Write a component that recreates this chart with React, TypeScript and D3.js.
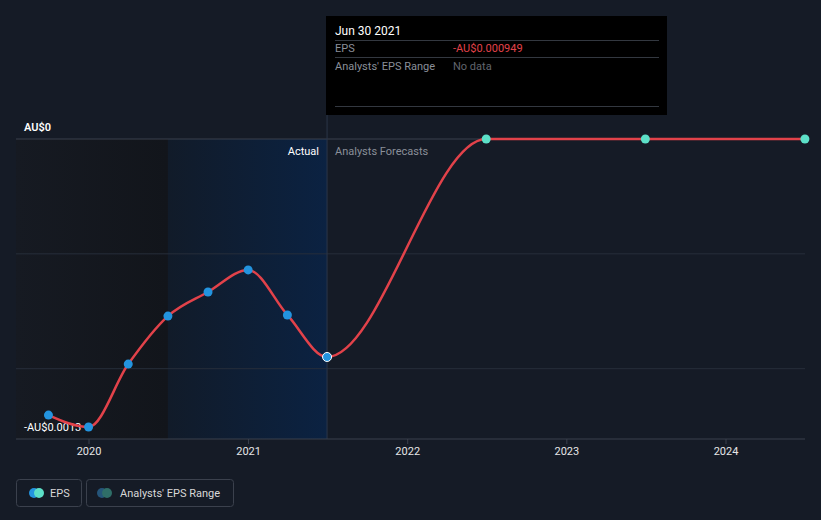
import React from "react";
import * as d3 from "d3";

const actualDates = ["2019-09-30", "2019-12-31", "2020-03-31", "2020-06-30", "2020-09-30", "2020-12-31", "2021-03-31", "2021-06-30"];
const actualEps = [-0.001202, -0.001254, -0.00098, -0.000771, -0.000666, -0.00057, -0.000766, -0.000949];
const forecastDates = ["2022-06-30", "2023-06-30", "2024-06-30"];
const forecastEps = [0, 0, 0];
const yearTicks = [2020, 2021, 2022, 2023, 2024];
const yTickValues = [0, -0.0005, -0.001];

const W = 821;
const H = 520;
const FONT = "Roboto, 'Noto Sans', sans-serif";

export default function App() {
  const parse = d3.timeParse("%Y-%m-%d");
  const x = d3
    .scaleTime()
    .domain([new Date(2020, 0, 1), new Date(2024, 0, 1)])
    .range([89, 726]);
  const y = d3.scaleLinear().domain([0, -0.0013]).range([139, 437.6]);

  const actual = actualDates.map((d, i) => ({ date: parse(d) as Date, v: actualEps[i] }));
  const forecast = forecastDates.map((d, i) => ({ date: parse(d) as Date, v: forecastEps[i] }));
  const all = [...actual, ...forecast];

  const line = d3
    .line<{ date: Date; v: number }>()
    .x((d) => x(d.date))
    .y((d) => y(d.v))
    .curve(d3.curveMonotoneX);

  const lastActual = actual[actual.length - 1];
  const xNow = x(lastActual.date);
  const xPastStart = x(parse("2020-06-30") as Date);
  const plotLeft = 16;
  const plotRight = 805;
  const plotTop = 139;
  const axisY = 439;
  const minVal = d3.min(actualEps) as number;

  return (
    <div style={{ position: "absolute", left: 0, top: 0, width: W, height: H }}>
      <svg width={W} height={H} style={{ display: "block", background: "#151b26", fontFamily: FONT }}>
        <defs>
          <linearGradient id="pastGrad" x1="0" x2="1" y1="0" y2="0">
            <stop offset="0%" stopColor="#161a22" />
            <stop offset="100%" stopColor="#12151b" />
          </linearGradient>
          <linearGradient id="actGrad" x1="0" x2="1" y1="0" y2="0">
            <stop offset="0%" stopColor="#111b29" />
            <stop offset="100%" stopColor="#0b2242" />
          </linearGradient>
        </defs>
        <rect x={plotLeft} y={plotTop} width={xPastStart - plotLeft} height={axisY - plotTop} fill="url(#pastGrad)" />
        <rect x={xPastStart} y={plotTop} width={xNow - xPastStart} height={axisY - plotTop} fill="url(#actGrad)" />

        {yTickValues.map((t, i) => (
          <line
            key={t}
            x1={plotLeft}
            x2={plotRight}
            y1={y(t)}
            y2={y(t)}
            stroke={i === 0 ? "#3b414d" : "#272e3a"}
            strokeWidth={1}
          />
        ))}

        <line x1={xNow} x2={xNow} y1={100} y2={axisY} stroke="#2a3648" strokeWidth={1} />

        <line x1={plotLeft} x2={plotRight} y1={axisY} y2={axisY} stroke="#3b414d" strokeWidth={1} />
        {yearTicks.map((yr) => {
          const xx = x(new Date(yr, 0, 1));
          return (
            <g key={yr}>
              <line x1={xx} x2={xx} y1={axisY} y2={axisY + 5} stroke="#3b414d" />
              <text x={xx} y={455} fill="#e6e6e6" fontSize={11} textAnchor="middle">
                {yr}
              </text>
            </g>
          );
        })}

        <text x={24} y={131} fill="#ffffff" fontSize={11} fontWeight={600}>
          AU$0
        </text>
        <text x={24} y={431} fill="#ffffff" fontSize={11}>
          {"-AU$" + (-minVal).toFixed(4)}
        </text>

        <text x={319} y={155} fill="#ffffff" fontSize={11} textAnchor="end">
          Actual
        </text>
        <text x={335} y={155} fill="#8a8f99" fontSize={11}>
          Analysts Forecasts
        </text>

        <path d={line(all) || ""} fill="none" stroke="#e2424a" strokeWidth={2.5} />

        {actual.map((d, i) => (
          <circle
            key={"a" + i}
            cx={x(d.date)}
            cy={y(d.v)}
            r={4.5}
            fill="#2394df"
            stroke={i === actual.length - 1 ? "#ffffff" : "none"}
            strokeWidth={1}
          />
        ))}
        {forecast.map((d, i) => (
          <circle key={"f" + i} cx={x(d.date)} cy={y(d.v)} r={4.5} fill="#5ce0c8" />
        ))}

        <g>
          <rect x={326} y={16} width={341} height={99} fill="#000000" />
          <text x={335} y={35} fill="#ffffff" fontSize={12}>
            Jun 30 2021
          </text>
          <line x1={335} x2={659} y1={40.5} y2={40.5} stroke="#333840" />
          <text x={335} y={52} fill="#8a8f99" fontSize={11}>
            EPS
          </text>
          <text x={453} y={52} fill="#e2424a" fontSize={11}>
            {"-AU$" + (-lastActual.v).toFixed(6)}
          </text>
          <line x1={335} x2={659} y1={57.5} y2={57.5} stroke="#333840" />
          <text x={335} y={70} fill="#8a8f99" fontSize={11}>
            Analysts' EPS Range
          </text>
          <text x={453} y={70} fill="#60656e" fontSize={11}>
            No data
          </text>
          <line x1={335} x2={659} y1={106.5} y2={106.5} stroke="#333840" />
        </g>

        <g>
          <rect x={16.5} y={479.5} width={65} height={27} rx={3} fill="none" stroke="#3b414d" />
          <circle cx={34} cy={493} r={5} fill="#2394df" />
          <circle cx={39} cy={493} r={5} fill="#5ce0c8" />
          <text x={50} y={497} fill="#d8d8d8" fontSize={11}>
            EPS
          </text>
          <rect x={86.5} y={479.5} width={147} height={27} rx={3} fill="none" stroke="#3b414d" />
          <circle cx={102} cy={493} r={5} fill="#25557a" />
          <circle cx={107} cy={493} r={5} fill="#2f6e68" />
          <text x={120} y={497} fill="#d8d8d8" fontSize={11}>
            Analysts' EPS Range
          </text>
        </g>
      </svg>
    </div>
  );
}
